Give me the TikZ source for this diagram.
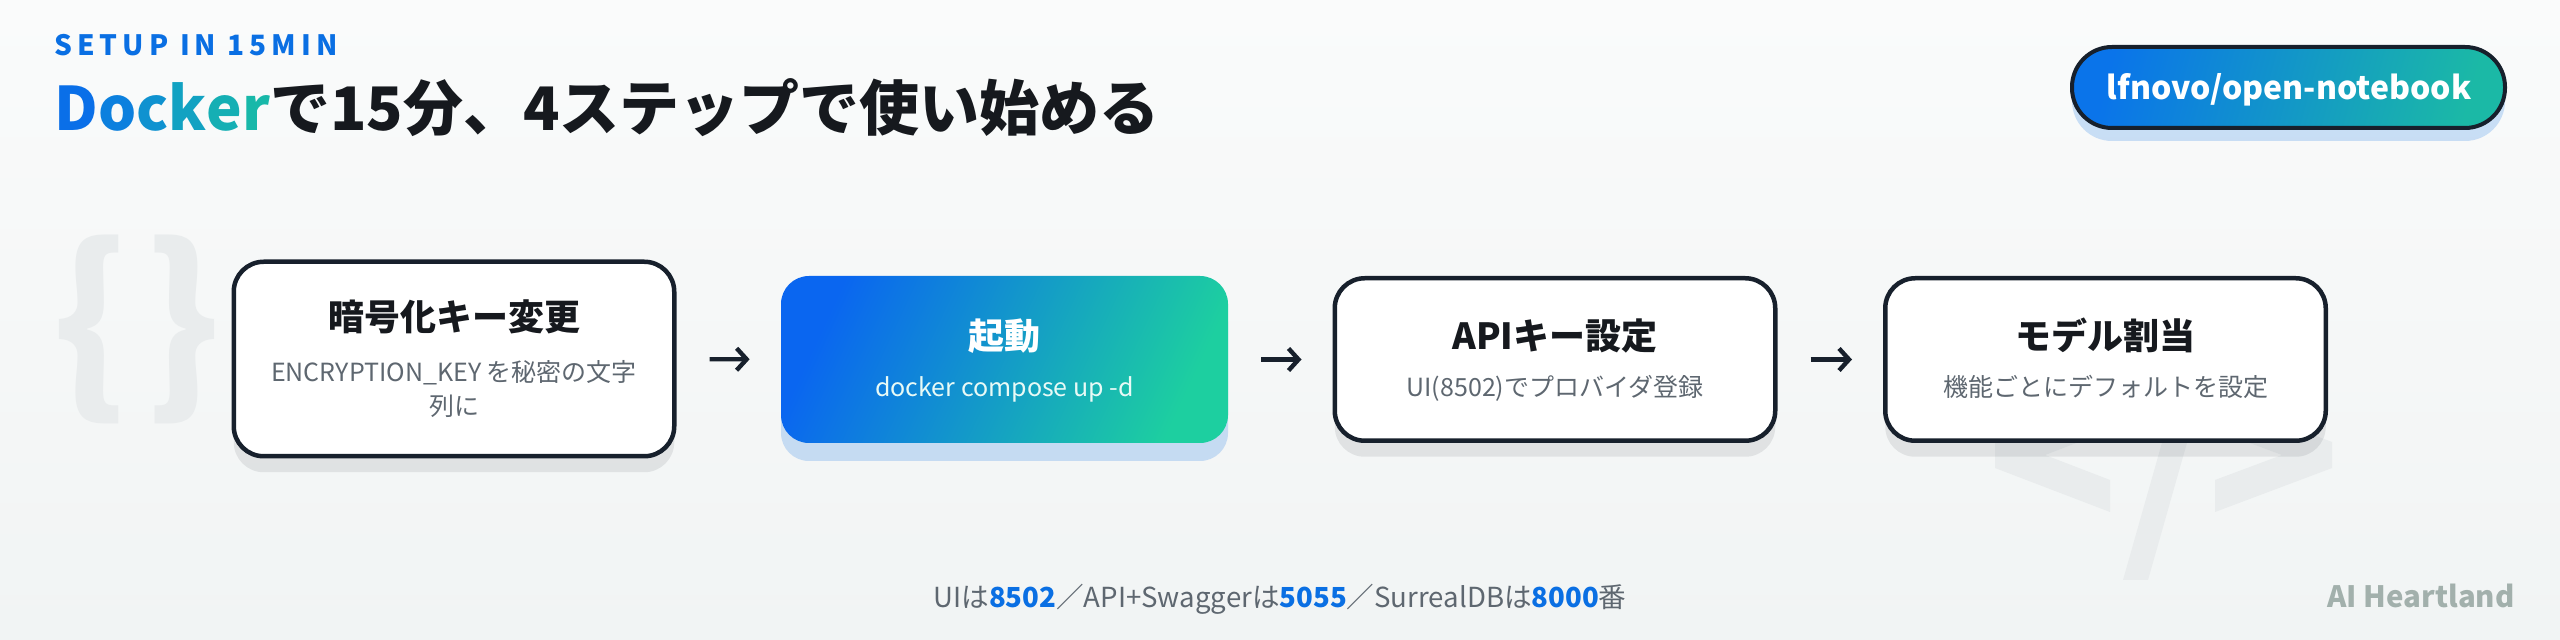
\documentclass[tikz,border=0pt]{standalone}
\usepackage{fontspec}
\setmainfont{Noto Sans CJK JP}
\usetikzlibrary{shadows,arrows.meta}

\definecolor{inkdark}{HTML}{17202C}
\definecolor{titleink}{HTML}{16191E}
\definecolor{subgray}{HTML}{5E6770}
\definecolor{accentblue}{HTML}{0A6FE3}
\definecolor{gradblue}{HTML}{0A66F0}
\definecolor{gradteal}{HTML}{1DCFA0}
\definecolor{pillblue}{HTML}{0A74EA}
\definecolor{pillteal}{HTML}{1BB9A6}
\definecolor{decogray}{HTML}{E9ECED}
\definecolor{brandgray}{HTML}{A2B0AC}
\definecolor{bgtop}{HTML}{FAFBFB}
\definecolor{bgbot}{HTML}{F1F4F4}
% letters of the word Docker, blue to teal
\definecolor{dk1}{HTML}{0A6FE8}
\definecolor{dk2}{HTML}{0C80DE}
\definecolor{dk3}{HTML}{0F92D0}
\definecolor{dk4}{HTML}{12A2C2}
\definecolor{dk5}{HTML}{15AFB4}
\definecolor{dk6}{HTML}{18B8A9}

\newcommand{\portnum}[1]{{\bfseries\color{accentblue}#1}}

\tikzset{
  stepbox/.style={rectangle, rounded corners=15pt, draw=inkdark, line width=2.25pt,
    fill=white, minimum width=220.25pt, minimum height=81.25pt, inner sep=0pt,
    drop shadow={shadow xshift=0pt, shadow yshift=-8pt, fill=inkdark, opacity=0.09}},
  activebox/.style={rectangle, rounded corners=14pt, draw=none,
    top color=gradblue, bottom color=gradteal, shading angle=65,
    minimum width=223.5pt, minimum height=83.5pt, inner sep=0pt,
    drop shadow={shadow xshift=0pt, shadow yshift=-9pt, fill=accentblue, opacity=0.2}},
  repobadge/.style={rectangle, rounded corners=20pt, draw=inkdark, line width=2pt,
    top color=pillblue, bottom color=pillteal, shading angle=75,
    minimum width=216.5pt, minimum height=40.5pt, inner sep=0pt,
    drop shadow={shadow xshift=0pt, shadow yshift=-6.5pt, fill=accentblue, opacity=0.2}},
  steptitle/.style={anchor=base, inner sep=0pt, text=titleink,
    font=\bfseries\fontsize{18}{22}\selectfont},
  stepnote/.style={anchor=base, inner sep=0pt, text=subgray,
    font=\fontsize{12.5}{17}\selectfont},
  steparrow/.style={draw=inkdark, line width=2.2pt,
    -{Straight Barb[length=5pt,width=11pt]}, shorten <=16.5pt, shorten >=15.5pt},
}

\begin{document}
\begin{tikzpicture}[x=0.5pt,y=-0.5pt]
  \useasboundingbox (0,0) rectangle (2560,640);
  % background
  \shade[top color=bgtop, bottom color=bgbot] (0,0) rectangle (2560,640);

  % faint code glyphs behind the steps
  \node[inner sep=0pt, text=decogray, font=\bfseries\fontsize{96}{96}\selectfont]
    (braces) at (137,329) {\{\hspace{8pt}\}};
  \fill[decogray] (1995,442) -- (2110,398) -- (2110,430) -- (2045,455)
    -- (2110,480) -- (2110,512) -- (1995,468) -- cycle;
  \fill[decogray] (2332,442) -- (2215,398) -- (2215,430) -- (2282,455)
    -- (2215,480) -- (2215,512) -- (2332,468) -- cycle;
  \fill[decogray] (2123,580) -- (2148,580) -- (2219,330) -- (2194,330) -- cycle;

  % heading
  \node[anchor=base west, inner sep=0pt, text=accentblue,
    font=\bfseries\fontsize{14}{17}\selectfont\addfontfeature{LetterSpace=18}]
    (kicker) at (54,56) {SETUP IN 15MIN};
  \node[anchor=base west, inner sep=0pt, text=titleink,
    font=\bfseries\fontsize{30}{35}\selectfont]
    (headline) at (54,131) {\textcolor{dk1}{D}\textcolor{dk2}{o}\textcolor{dk3}{c}\textcolor{dk4}{k}\textcolor{dk5}{e}\textcolor{dk6}{r}で15分、4ステップで使い始める};

  % repository badge
  \node[repobadge] (repo) at (2288.5,87.5) {};
  \node[anchor=base, inner sep=0pt, text=white, font=\bfseries\fontsize{16}{20}\selectfont]
    (repotext) at (2289,100) {lfnovo/open-notebook};

  % the four steps
  \node[stepbox, minimum height=97.25pt] (b1) at (454,359) {};
  \node[activebox] (b2) at (1004.5,359.5) {};
  \node[stepbox] (b3) at (1555,359.5) {};
  \node[stepbox] (b4) at (2105.5,359.5) {};

  \node[steptitle] (t1) at (454,331) {暗号化キー変更};
  \node[stepnote] (n1) at (454,382) {ENCRYPTION\_KEY を秘密の文字};
  \node[stepnote] (n1b) at (454,416) {列に};

  \node[steptitle, text=white] (t2) at (1004.5,350) {起動};
  \node[stepnote, text=white!90!gradteal] (n2) at (1004.5,397) {docker compose up -d};

  \node[steptitle] (t3) at (1555,350) {APIキー設定};
  \node[stepnote] (n3) at (1555,397) {UI(8502)でプロバイダ登録};

  \node[steptitle] (t4) at (2105.5,350) {モデル割当};
  \node[stepnote] (n4) at (2105.5,397) {機能ごとにデフォルトを設定};

  \foreach \a/\b in {b1/b2, b2/b3, b3/b4}
    \draw[steparrow] (\a) -- (\b);

  % footer
  \node[anchor=base, inner sep=0pt, text=subgray, font=\fontsize{13.8}{17}\selectfont]
    (ports) at (1280,608) {UIは\portnum{8502}／API+Swaggerは\portnum{5055}／SurrealDBは\portnum{8000}番};
  \node[anchor=base east, inner sep=0pt, text=brandgray, font=\bfseries\fontsize{14.7}{18}\selectfont]
    (brand) at (2515,608) {AI Heartland};
\end{tikzpicture}
\end{document}
